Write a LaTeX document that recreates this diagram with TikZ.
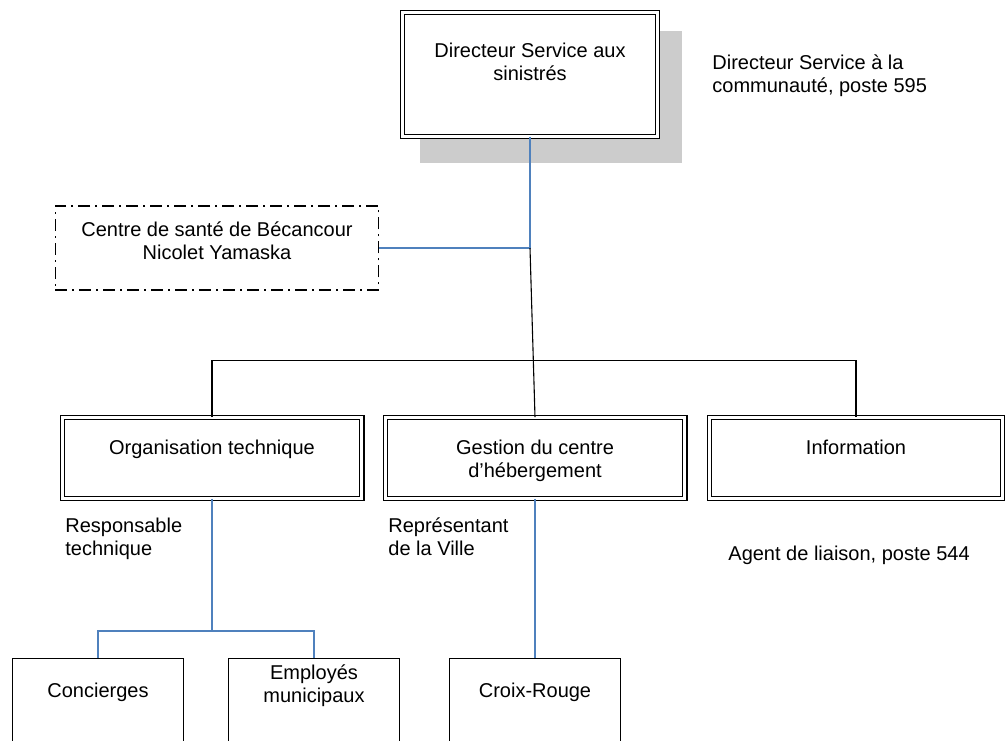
\documentclass[tikz,border=0pt]{standalone}
\usepackage{fontspec}
\setmainfont{Liberation Sans}
\usetikzlibrary{positioning,backgrounds}
\definecolor{lienbleu}{RGB}{79,129,189}
\definecolor{ombre}{gray}{0.8}
\newcommand{\bloc}[4]{\parbox[c][#2][t]{#1}{\centering\vspace*{#3}\strut #4}}

\begin{document}
\begin{tikzpicture}[x=0.5pt,y=-0.5pt,
 every node/.style={font=\fontsize{10}{11.5}\selectfont},
 cadre/.style={draw, double, line width=0.65pt, double distance=1.4pt, fill=white, inner sep=0pt},
 simple/.style={draw, line width=0.7pt, inner sep=0pt},
 pointille/.style={draw, line width=0.85pt, dash pattern=on 6pt off 2.5pt on 1pt off 2.5pt, inner sep=0pt},
 bleu/.style={draw=lienbleu, line width=0.95pt},
 noir/.style={draw=black, line width=0.55pt},
 note/.style={inner sep=0pt, align=left}]
 \useasboundingbox (0,0) rectangle (1006,740);
 \clip (0,0) rectangle (1006,740);

 \node[cadre] (dir) at (530,74.5) {\bloc{127.3pt}{61.8pt}{14.1pt}{Directeur Service aux\\sinistrés}};
 \begin{scope}[on background layer]
  \fill[ombre] ([shift={(18.3,25.7)}]dir.south west) rectangle ([shift={(23.7,19.3)}]dir.north east);
 \end{scope}
 \node[note, anchor=north west] (n1) at (712,54.4) {Directeur Service à la\\communauté, poste 595};

 \node[pointille] (sante) at (217,248) {\bloc{161.6pt}{42.1pt}{7.2pt}{Centre de santé de Bécancour\\Nicolet Yamaska}};

 \node[cadre] (org) at (212,458) {\bloc{149.8pt}{40.3pt}{10.25pt}{Organisation technique}};
 \node[cadre] (gestion) at (535,458) {\bloc{149.8pt}{40.3pt}{10.25pt}{Gestion du centre\\d’hébergement}};
 \node[cadre] (info) at (856,458) {\bloc{146.3pt}{40.3pt}{10.25pt}{Information}};

 \node[note, anchor=north west] (n2) at (65,517.7) {Responsable\\technique};
 \node[note, anchor=north west] (n3) at (388,517.2) {Représentant\\de la Ville};
 \node[note, anchor=base west] (n4) at (728,560) {Agent de liaison, poste 544};

 \node[simple] (concierges) at (98,718.7) {\bloc{85.3pt}{60pt}{11.45pt}{Concierges}};
 \node[simple] (employes) at (314,718.7) {\bloc{85.3pt}{60pt}{2.45pt}{Employés\\municipaux}};
 \node[simple] (croix) at (535,718.7) {\bloc{85.3pt}{60pt}{11.45pt}{Croix-Rouge}};

 \coordinate (coude) at (dir.south |- sante.east);
 \draw[bleu] (dir.south) |- (sante.east);
 \draw[noir] (coude) -- (gestion.north);
 \draw[noir] (org.north) -- ++(0,-56.3) -| (info.north);

 \draw[bleu] (org.south) -- ++(0,131.7) coordinate (fourche);
 \draw[bleu] (fourche) -| (concierges.north);
 \draw[bleu] (fourche) -| (employes.north);
 \draw[bleu] (gestion.south) -- (croix.north);
\end{tikzpicture}
\end{document}
